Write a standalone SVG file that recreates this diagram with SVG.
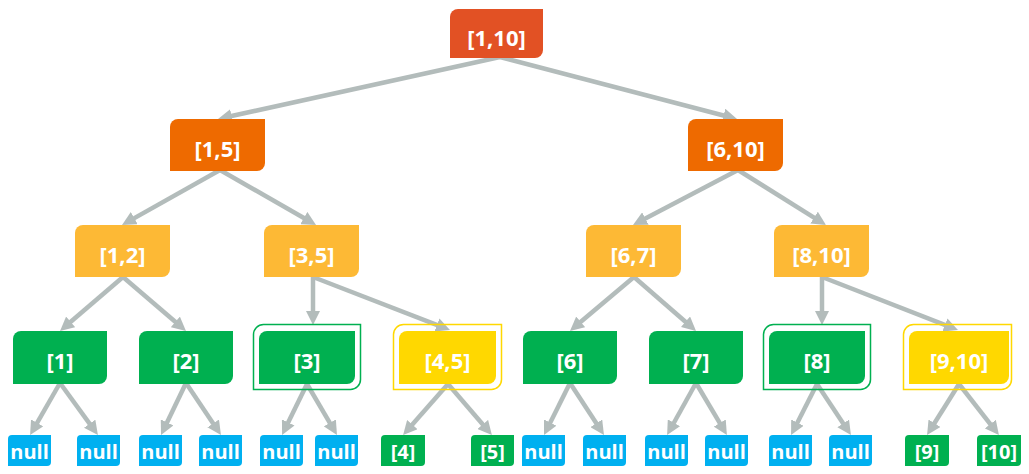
<svg xmlns="http://www.w3.org/2000/svg" width="1029" height="474" viewBox="0 0 1029 474">
<defs>
<marker id="arr" markerUnits="userSpaceOnUse" markerWidth="14" markerHeight="14" refX="6" refY="7" orient="auto">
<path d="M0,0 L14,7 L0,14 Z" fill="#B3BCBB"/>
</marker>
</defs>
<style>
text{font-family:"Open Sans","Noto Sans","Liberation Sans",sans-serif;font-weight:700;fill:#fff;text-anchor:middle;dominant-baseline:central}
.t{font-size:22px}
.s{font-size:20px}
.c0{fill:#E25124}
.c1{fill:#EE6A00}
.c2{fill:#FDB935}
.g{fill:#00B050}
.y{fill:#FFD800}
.b{fill:#00B0F0}
.og{fill:none;stroke:#00B050;stroke-width:1.5}
.oy{fill:none;stroke:#FFD800;stroke-width:1.5}
#edges line{stroke:#B3BCBB;stroke-width:4.5;marker-end:url(#arr)}
</style>
<g id="edges">
<line x1="500" y1="57" x2="225.8" y2="117.3"/>
<line x1="500" y1="57" x2="729.3" y2="117.0"/>
<line x1="220" y1="170" x2="129.0" y2="221.1"/>
<line x1="220" y1="170" x2="309.1" y2="221.0"/>
<line x1="738" y1="170" x2="640.1" y2="221.3"/>
<line x1="738" y1="170" x2="819.2" y2="220.8"/>
<line x1="123" y1="277" x2="66.1" y2="325.8"/>
<line x1="123" y1="277" x2="179.9" y2="325.8"/>
<line x1="313" y1="276" x2="313" y2="317"/>
<line x1="313" y1="277" x2="442.5" y2="327.1"/>
<line x1="634" y1="277" x2="576.1" y2="325.8"/>
<line x1="634" y1="277" x2="690.0" y2="325.7"/>
<line x1="822" y1="276" x2="822" y2="317"/>
<line x1="822" y1="277" x2="950.5" y2="327.1"/>
<line x1="60" y1="383" x2="34.1" y2="428.1"/>
<line x1="60" y1="383" x2="93.2" y2="428.6"/>
<line x1="186" y1="383" x2="164.5" y2="427.8"/>
<line x1="186" y1="383" x2="216.5" y2="428.4"/>
<line x1="307" y1="384" x2="285.6" y2="427.8"/>
<line x1="307" y1="384" x2="332.9" y2="428.1"/>
<line x1="448" y1="384" x2="408.4" y2="429.1"/>
<line x1="448" y1="384" x2="486.7" y2="429.0"/>
<line x1="570" y1="383" x2="547.6" y2="427.9"/>
<line x1="570" y1="383" x2="599.6" y2="428.3"/>
<line x1="696" y1="383" x2="671.0" y2="428.0"/>
<line x1="696" y1="383" x2="722.8" y2="428.2"/>
<line x1="817" y1="384" x2="794.7" y2="427.9"/>
<line x1="817" y1="384" x2="846.5" y2="428.4"/>
<line x1="959" y1="384" x2="931.3" y2="428.3"/>
<line x1="959" y1="384" x2="994.0" y2="428.8"/>
</g>
<g id="n1_10"><path class="c0" d="M450,17 A8,8 0 0 1 458,9 H543 V50 A8,8 0 0 1 535,58 H450 Z"/><text class="t" x="496.5" y="37">[1,10]</text></g>
<g id="n1_5"><path class="c1" d="M170,127 A8,8 0 0 1 178,119 H265 V163 A8,8 0 0 1 257,171 H170 Z"/><text class="t" x="217.5" y="148">[1,5]</text></g>
<g id="n6_10"><path class="c1" d="M688,127 A8,8 0 0 1 696,119 H783 V163 A8,8 0 0 1 775,171 H688 Z"/><text class="t" x="735.5" y="148">[6,10]</text></g>
<g id="n1_2"><path class="c2" d="M75,233 A8,8 0 0 1 83,225 H170 V269 A8,8 0 0 1 162,277 H75 Z"/><text class="t" x="122.5" y="254">[1,2]</text></g>
<g id="n3_5"><path class="c2" d="M264,233 A8,8 0 0 1 272,225 H359 V269 A8,8 0 0 1 351,277 H264 Z"/><text class="t" x="311.5" y="254">[3,5]</text></g>
<g id="n6_7"><path class="c2" d="M586,233 A8,8 0 0 1 594,225 H681 V269 A8,8 0 0 1 673,277 H586 Z"/><text class="t" x="633.5" y="254">[6,7]</text></g>
<g id="n8_10"><path class="c2" d="M774,233 A8,8 0 0 1 782,225 H869 V269 A8,8 0 0 1 861,277 H774 Z"/><text class="t" x="821.5" y="254">[8,10]</text></g>
<g id="n1"><path class="g" d="M13,339 A8,8 0 0 1 21,331 H107 V376 A8,8 0 0 1 99,384 H13 Z"/><text class="t" x="60" y="360">[1]</text></g>
<g id="n2"><path class="g" d="M139,339 A8,8 0 0 1 147,331 H233 V376 A8,8 0 0 1 225,384 H139 Z"/><text class="t" x="186" y="360">[2]</text></g>
<g id="n3"><path class="og" d="M253.5,334.5 A10,10 0 0 1 263.5,324.5 H360.5 V379.5 A10,10 0 0 1 350.5,389.5 H253.5 Z"/><path class="g" d="M259,339 A8,8 0 0 1 267,331 H355 V376 A8,8 0 0 1 347,384 H259 Z"/><text class="t" x="307" y="360">[3]</text></g>
<g id="n4_5"><path class="oy" d="M393.5,334.5 A10,10 0 0 1 403.5,324.5 H501.5 V379.5 A10,10 0 0 1 491.5,389.5 H393.5 Z"/><path class="y" d="M399,339 A8,8 0 0 1 407,331 H496 V376 A8,8 0 0 1 488,384 H399 Z"/><text class="t" x="447.5" y="360">[4,5]</text></g>
<g id="n6"><path class="g" d="M523,339 A8,8 0 0 1 531,331 H617 V376 A8,8 0 0 1 609,384 H523 Z"/><text class="t" x="570" y="360">[6]</text></g>
<g id="n7"><path class="g" d="M649,339 A8,8 0 0 1 657,331 H743 V376 A8,8 0 0 1 735,384 H649 Z"/><text class="t" x="696" y="360">[7]</text></g>
<g id="n8"><path class="og" d="M763.5,334.5 A10,10 0 0 1 773.5,324.5 H870.5 V379.5 A10,10 0 0 1 860.5,389.5 H763.5 Z"/><path class="g" d="M769,339 A8,8 0 0 1 777,331 H865 V376 A8,8 0 0 1 857,384 H769 Z"/><text class="t" x="817" y="360">[8]</text></g>
<g id="n9_10"><path class="oy" d="M903.5,334.5 A10,10 0 0 1 913.5,324.5 H1011.5 V379.5 A10,10 0 0 1 1001.5,389.5 H903.5 Z"/><path class="y" d="M909,339 A8,8 0 0 1 917,331 H1009 V376 A8,8 0 0 1 1001,384 H909 Z"/><text class="t" x="959" y="360">[9,10]</text></g>
<g id="l1"><path class="b" d="M8,439 A4,4 0 0 1 12,435 H51 V462 A4,4 0 0 1 47,466 H8 Z"/><text class="s" x="29.5" y="451">null</text></g>
<g id="l2"><path class="b" d="M77,439 A4,4 0 0 1 81,435 H120 V462 A4,4 0 0 1 116,466 H77 Z"/><text class="s" x="98.5" y="451">null</text></g>
<g id="l3"><path class="b" d="M139,439 A4,4 0 0 1 143,435 H182 V462 A4,4 0 0 1 178,466 H139 Z"/><text class="s" x="160.5" y="451">null</text></g>
<g id="l4"><path class="b" d="M199,439 A4,4 0 0 1 203,435 H242 V462 A4,4 0 0 1 238,466 H199 Z"/><text class="s" x="220.5" y="451">null</text></g>
<g id="l5"><path class="b" d="M260,439 A4,4 0 0 1 264,435 H303 V462 A4,4 0 0 1 299,466 H260 Z"/><text class="s" x="281.5" y="451">null</text></g>
<g id="l6"><path class="b" d="M315,439 A4,4 0 0 1 319,435 H358 V462 A4,4 0 0 1 354,466 H315 Z"/><text class="s" x="336.5" y="451">null</text></g>
<g id="l7"><path class="g" d="M381,439 A4,4 0 0 1 385,435 H425 V462 A4,4 0 0 1 421,466 H381 Z"/><text class="s" x="403" y="451">[4]</text></g>
<g id="l8"><path class="g" d="M471,439 A4,4 0 0 1 475,435 H514 V462 A4,4 0 0 1 510,466 H471 Z"/><text class="s" x="492.5" y="451">[5]</text></g>
<g id="l9"><path class="b" d="M522,439 A4,4 0 0 1 526,435 H565 V462 A4,4 0 0 1 561,466 H522 Z"/><text class="s" x="543.5" y="451">null</text></g>
<g id="l10"><path class="b" d="M583,439 A4,4 0 0 1 587,435 H626 V462 A4,4 0 0 1 622,466 H583 Z"/><text class="s" x="604.5" y="451">null</text></g>
<g id="l11"><path class="b" d="M645,439 A4,4 0 0 1 649,435 H688 V462 A4,4 0 0 1 684,466 H645 Z"/><text class="s" x="666.5" y="451">null</text></g>
<g id="l12"><path class="b" d="M705,439 A4,4 0 0 1 709,435 H748 V462 A4,4 0 0 1 744,466 H705 Z"/><text class="s" x="726.5" y="451">null</text></g>
<g id="l13"><path class="b" d="M769,439 A4,4 0 0 1 773,435 H812 V462 A4,4 0 0 1 808,466 H769 Z"/><text class="s" x="790.5" y="451">null</text></g>
<g id="l14"><path class="b" d="M829,439 A4,4 0 0 1 833,435 H872 V462 A4,4 0 0 1 868,466 H829 Z"/><text class="s" x="850.5" y="451">null</text></g>
<g id="l15"><path class="g" d="M905,439 A4,4 0 0 1 909,435 H949 V462 A4,4 0 0 1 945,466 H905 Z"/><text class="s" x="927" y="451">[9]</text></g>
<g id="l16"><path class="g" d="M977,439 A4,4 0 0 1 981,435 H1021 V462 A4,4 0 0 1 1017,466 H977 Z"/><text class="s" x="999" y="451">[10]</text></g>
</svg>
